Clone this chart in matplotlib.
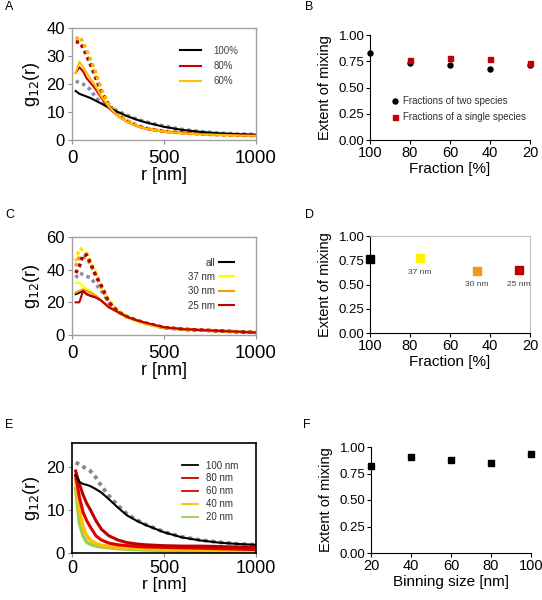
import numpy as np
import matplotlib.pyplot as plt

plt.rcParams['font.family'] = ['Liberation Sans', 'DejaVu Sans']

# r grid (nm) shared by the g12(r) curves
r = [20, 40, 60, 80, 100, 130, 160, 200, 250, 300, 350, 400, 500, 600, 700, 800, 900, 1000]

# panel A
a_100 = [17.5, 16.5, 16, 15.5, 15, 14, 13, 11.5, 10, 8.5, 7.3, 6.3, 4.7, 3.6, 2.9, 2.4, 2.1, 1.9]
a_100_dot = [21, 20.5, 20, 19, 18, 15, 13.5, 12, 10.3, 8.8, 7.5, 6.5, 5, 3.8, 3, 2.5, 2.2, 2]
a_80 = [24, 26, 24.5, 22, 20.5, 18, 15, 11.5, 8.5, 6.5, 5, 4, 3, 2.5, 2.1, 1.9, 1.7, 1.5]
a_80_dot = [35, 35, 33, 30, 27, 22, 17, 12.5, 9, 6.8, 5.3, 4.2, 3.1, 2.6, 2.2, 1.9, 1.7, 1.6]
a_60 = [24, 28, 26, 24, 22, 19, 15.5, 12, 8.5, 6.5, 5, 4, 3, 2.4, 2, 1.8, 1.6, 1.5]
a_60_dot = [36, 37, 35, 32, 29, 24, 18, 13, 9.3, 7, 5.3, 4.2, 3.1, 2.5, 2.1, 1.9, 1.7, 1.6]

# panel B
b_frac = [100, 80, 60, 40, 20]
b_two = [0.83, 0.73, 0.715, 0.68, 0.71]
b_frac_single = [80, 60, 40, 20]
b_single = [0.76, 0.78, 0.775, 0.73]

# panel C
c_all = [25, 26, 27, 25, 24, 23, 21, 17, 14, 11, 9, 7, 4.5, 3.5, 3, 2.5, 2, 1.5]
c_37 = [32, 32, 30, 28, 27, 24, 21, 17, 13.5, 10.5, 8.5, 6.5, 4.3, 3.4, 2.8, 2.4, 2, 1.5]
c_30 = [26, 27, 28, 27, 26, 24, 21, 17, 14, 11, 9, 7, 4.5, 3.5, 3, 2.5, 2, 1.5]
c_25 = [20, 20, 27, 25, 24, 23, 21, 17, 14, 11, 9, 7.5, 4.7, 3.6, 3, 2.5, 2, 1.5]
c_all_dot = [35, 38, 37, 36, 35, 31, 27, 20, 14, 11, 9, 7, 4.5, 3.5, 3, 2.5, 2, 1.5]
c_37_dot = [45, 53, 52, 50, 45, 38, 30, 21, 15, 11.5, 9, 7, 4.6, 3.6, 3, 2.5, 2, 1.6]
c_30_dot = [42, 48, 48, 47, 43, 37, 29, 20, 14.5, 11, 9, 7, 4.5, 3.5, 3, 2.5, 2, 1.5]
c_25_dot = [38, 42, 49, 49, 44, 36, 30, 20, 14, 11, 9, 7.3, 4.6, 3.5, 3, 2.5, 2, 1.5]

# panel D
d_frac = [100, 75, 46.5, 25.5]
d_mix = [0.76, 0.77, 0.64, 0.645]
d_labels = ['', '37 nm', '30 nm', '25 nm']
d_colors = ['black', '#FFF200', '#F7941D', '#C00000']

# panel E
e_100 = [18, 16.5, 16, 15.8, 15.5, 14.8, 14, 12.5, 10.5, 8.7, 7.5, 6.5, 4.8, 3.6, 2.9, 2.4, 2.1, 1.9]
e_100_dot = [21, 20.5, 20, 19.5, 19, 17.5, 15.5, 13.3, 11, 9, 7.7, 6.6, 4.9, 3.7, 3, 2.5, 2.1, 1.9]
e_80 = [19, 16, 13.5, 11.5, 10, 7.5, 5.5, 4, 3, 2.4, 2.1, 1.9, 1.7, 1.6, 1.6, 1.5, 1.4, 1.3]
e_60 = [18, 13, 9.5, 7.5, 6, 4, 3, 2.3, 1.9, 1.7, 1.5, 1.4, 1.3, 1.2, 1.1, 1, 0.9, 0.8]
e_40 = [17, 10, 6, 4, 3, 2.2, 1.8, 1.5, 1.3, 1.2, 1.1, 1, 0.9, 0.8, 0.7, 0.6, 0.5, 0.5]
e_20 = [15, 7, 4, 2.5, 2, 1.6, 1.4, 1.2, 1, 0.9, 0.8, 0.7, 0.6, 0.5, 0.4, 0.4, 0.3, 0.3]

# panel F
f_bin = [20, 40, 60, 80, 100]
f_mix = [0.82, 0.91, 0.88, 0.85, 0.93]

W, H = 542, 600
fig = plt.figure(figsize=(W / 100, H / 100), dpi=100)


def box(x0, x1, ytop, ybot):
    return fig.add_axes([x0 / W, 1 - ybot / H, (x1 - x0) / W, (ybot - ytop) / H])


def g_axes(ax, ymax, yticks, spine_col='#a0a0a0', lw=1.0):
    ax.set_xlim(0, 1000)
    ax.set_ylim(0, ymax)
    ax.set_xticks([0, 500, 1000])
    ax.set_yticks(yticks)
    for s in ax.spines.values():
        s.set_color(spine_col)
        s.set_linewidth(lw)
    ax.tick_params(direction='out', length=3, color='#909090')
    ax.tick_params(axis='x', labelsize=13.5, pad=4)
    ax.tick_params(axis='y', labelsize=12, pad=2)
    ax.set_xlabel('r [nm]', fontsize=13, labelpad=0)
    ax.set_ylabel('g$_{12}$(r)', fontsize=13, labelpad=3)


def m_axes(ax):
    ax.spines['top'].set_visible(False)
    ax.spines['right'].set_visible(False)
    ax.set_ylim(0, 1)
    ax.set_yticks([0, 0.25, 0.5, 0.75, 1.0])
    ax.set_yticklabels(['0.00', '0.25', '0.50', '0.75', '1.00'])
    ax.tick_params(direction='out', length=3, labelsize=9.5, pad=1)
    ax.tick_params(axis='x', labelsize=10.5)
    ax.set_ylabel('Extent of mixing', fontsize=10.5, labelpad=5)


dot = (0, (1, 1))

# ---- A
ax = box(72, 256, 28, 140)
ax.plot(r, a_100_dot, color='#8c8ca0', lw=2.5, ls=dot)
ax.plot(r, a_80_dot, color='#b00000', lw=2.5, ls=dot)
ax.plot(r, a_60_dot, color='#F5B800', lw=2.5, ls=dot)
ax.plot(r, a_100, color='black', lw=1.5, label='100%')
ax.plot(r, a_80, color='#CC0000', lw=1.5, label='80%')
ax.plot(r, a_60, color='#FFC000', lw=1.5, label='60%')
g_axes(ax, 40, [0, 10, 20, 30, 40])
ax.legend(loc='upper left', bbox_to_anchor=(0.54, 0.92), frameon=False, fontsize=7,
          handlelength=2.2, handletextpad=1.2, labelspacing=0.55, labelcolor='#404040')
fig.text(5 / W, 1 - 7 / H, 'A', fontsize=9, va='center')

# ---- B
ax = box(370, 530, 35, 140)
ax.plot(b_frac, b_two, 'o', color='black', ms=3.6, clip_on=False, label='Fractions of two species')
ax.plot(b_frac_single, b_single, 's', color='#C0000A', ms=3.6, clip_on=False,
        label='Fractions of a single species')
ax.set_xlim(100, 20)
ax.set_xticks([100, 80, 60, 40, 20])
m_axes(ax)
ax.set_xlabel('Fraction [%]', fontsize=11, labelpad=2)
ax.legend(loc='upper left', bbox_to_anchor=(0.08, 0.5), frameon=False, fontsize=7,
          handlelength=0.8, handletextpad=0.4, labelspacing=0.6, labelcolor='#303030')
fig.text(305 / W, 1 - 7 / H, 'B', fontsize=9, va='center')

# ---- C
ax = box(72, 256, 237, 335)
ax.plot(r, c_all_dot, color='#8c8ca0', lw=2.5, ls=dot)
ax.plot(r, c_37_dot, color='#FFE000', lw=2.5, ls=dot)
ax.plot(r, c_30_dot, color='#F7941D', lw=2.5, ls=dot)
ax.plot(r, c_25_dot, color='#b00000', lw=2.5, ls=dot)
ax.plot(r, c_all, color='black', lw=1.5, label='all')
ax.plot(r, c_37, color='#FFFF00', lw=1.5, label='37 nm')
ax.plot(r, c_30, color='#FF9900', lw=1.5, label='30 nm')
ax.plot(r, c_25, color='#C00000', lw=1.5, label='25 nm')
g_axes(ax, 60, [0, 20, 40, 60])
ax.legend(loc='upper right', bbox_to_anchor=(0.93, 0.88), frameon=False, fontsize=7,
          markerfirst=False, handlelength=1.6, handletextpad=0.4, labelspacing=0.45,
          labelcolor='#303030')
fig.text(5 / W, 1 - 215 / H, 'C', fontsize=9, va='center')

# ---- D
ax = box(370, 530, 236, 333)
for fx, fy, c, lab in zip(d_frac, d_mix, d_colors, d_labels):
    ax.plot(fx, fy, 's', color=c, ms=5.5, clip_on=False)
    ax.annotate(lab, (fx, fy), xytext=(0, -10), textcoords='offset points',
                ha='center', va='center', fontsize=6, color='#404040')
ax.set_xlim(100, 20)
ax.set_xticks([100, 80, 60, 40, 20])
m_axes(ax)
ax.spines['top'].set_visible(True)
ax.spines['right'].set_visible(True)
ax.spines['top'].set_color('#c0c0c0')
ax.spines['right'].set_color('#c0c0c0')
ax.set_xlabel('Fraction [%]', fontsize=11, labelpad=2)
fig.text(305 / W, 1 - 215 / H, 'D', fontsize=9, va='center')

# ---- E
ax = box(72, 256, 443, 553)
ax.plot(r, e_100_dot, color='#8a8a8a', lw=2.8, ls=dot)
ax.plot(r, e_20, color='#92D050', lw=2.5, label='20 nm')
ax.plot(r, e_40, color='#FFC000', lw=2.5, label='40 nm')
ax.plot(r, e_60, color='#E00000', lw=2.2, label='60 nm')
ax.plot(r, e_80, color='#C00000', lw=2.2, label='80 nm')
ax.plot(r, e_100, color='black', lw=1.5, label='100 nm')
g_axes(ax, 25.5, [0, 10, 20], spine_col='black', lw=1.2)
ax.tick_params(axis='x', labelsize=13, pad=2)
ax.set_xlabel('r [nm]', fontsize=12.5, labelpad=0)
h, l = ax.get_legend_handles_labels()
ax.legend(h[::-1], l[::-1], loc='upper left', bbox_to_anchor=(0.55, 0.92), frameon=False,
          fontsize=7, handlelength=1.7, handletextpad=0.8, labelspacing=0.3,
          labelcolor='#303030')
for line in ax.get_legend().get_lines():
    line.set_linewidth(1.3)
fig.text(5 / W, 1 - 425 / H, 'E', fontsize=9, va='center')

# ---- F
ax = box(371, 531, 447, 553)
ax.plot(f_bin, f_mix, 's', color='black', ms=4, clip_on=False)
ax.set_xlim(20, 100)
ax.set_xticks([20, 40, 60, 80, 100])
m_axes(ax)
ax.set_xlabel('Binning size [nm]', fontsize=11, labelpad=2)
fig.text(303 / W, 1 - 425 / H, 'F', fontsize=9, va='center')

fig.savefig('out.png', dpi=100)
